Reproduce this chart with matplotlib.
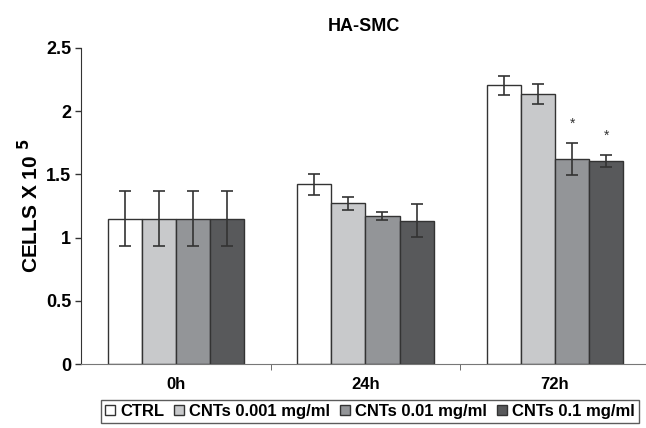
import matplotlib
matplotlib.use("Agg")
import matplotlib.pyplot as plt
import numpy as np

plt.rcParams['font.family'] = ['Liberation Sans', 'DejaVu Sans']

categories = ["0h", "24h", "72h"]
series = ["CTRL", "CNTs 0.001 mg/ml", "CNTs 0.01 mg/ml", "CNTs 0.1 mg/ml"]
values = [
    [1.15, 1.42, 2.205],
    [1.15, 1.27, 2.135],
    [1.15, 1.17, 1.62],
    [1.15, 1.135, 1.605],
]
errors = [
    [0.215, 0.083, 0.075],
    [0.215, 0.052, 0.077],
    [0.215, 0.032, 0.128],
    [0.215, 0.130, 0.045],
]
colors = ["#ffffff", "#c8c9cb", "#939598", "#58595b"]
yticks = [0, 0.5, 1, 1.5, 2, 2.5]
ytick_labels = ["0", "0.5", "1", "1.5", "2", "2.5"]
significant = [(2, 2), (2, 3)]  # (category idx, series idx)

fig = plt.figure(figsize=(6.46, 4.28), dpi=100)
ax = fig.add_axes([0.1254, 0.1495, 0.8746, 0.7385])

x = np.arange(len(categories))
bw = 0.18
for i, (s, vals, errs, c) in enumerate(zip(series, values, errors, colors)):
    pos = x + (i - 1.5) * bw
    ax.bar(pos, vals, bw, color=c, edgecolor="#333333", linewidth=1.0, label=s,
           yerr=errs, error_kw=dict(ecolor="#333333", elinewidth=1.2, capsize=4, capthick=1.2))

for ci, si in significant:
    pos = x[ci] + (si - 1.5) * bw
    top = values[si][ci] + errors[si][ci]
    ax.text(pos, top + 0.1, "*", ha="center", va="bottom", fontsize=10, color="#333333")

ax.set_ylim(0, 2.5)
ax.set_xlim(-0.5, 2.48)
ax.set_yticks(yticks)
ax.set_yticklabels(ytick_labels, fontsize=13, fontweight="bold")
ax.set_xticks(x)
ax.set_xticklabels(categories, fontsize=12, fontweight="bold")
ax.tick_params(axis="x", which="major", length=0, pad=9)
ax.set_xticks([0.5, 1.5], minor=True)
ax.tick_params(axis="x", which="minor", length=4, color="#555555")
ax.tick_params(axis="y", length=4, width=1, color="#333333", pad=3)
for sp in ["top", "right"]:
    ax.spines[sp].set_visible(False)
ax.spines["left"].set_color("#333333")
ax.spines["bottom"].set_color("#777777")

ax.set_ylabel("CELLS X 10 $^{\\mathbf{5}}$", fontsize=15, fontweight="bold", labelpad=3)
ax.set_title("HA-SMC", fontsize=13, fontweight="bold", pad=12)

leg = fig.legend(loc="lower right", bbox_to_anchor=(0.997, 0.0), ncol=4,
                 prop=dict(weight="bold", size=12), frameon=True, fancybox=False,
                 handlelength=0.6, handleheight=0.6, handletextpad=0.3, columnspacing=0.6,
                 borderpad=0.25, borderaxespad=0.3, edgecolor="#333333")
leg.get_frame().set_linewidth(1.0)

fig.savefig("out.png", dpi=100)
